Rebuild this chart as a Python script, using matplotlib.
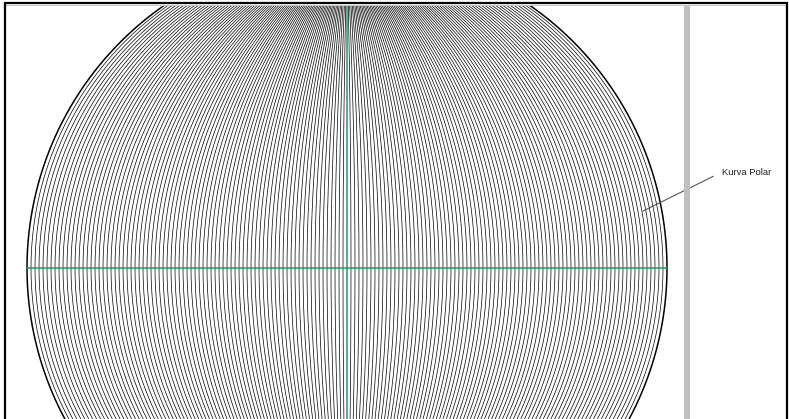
import numpy as np
import matplotlib
matplotlib.use("Agg")
import matplotlib.pyplot as plt
from matplotlib.patches import Rectangle

# polar curve family: circles through (0, R) and (0, -R)
radius = 10.0
n_arcs = 80          # arcs on each side of the vertical axis
label = "Kurva Polar"
label_point = (9.25, 1.78)

W, H = 789, 419
fig = plt.figure(figsize=(W / 100, H / 100), dpi=100)
fig.patch.set_facecolor("white")

# plot area (pixels from left/top): x 5..684, y 5..419, centre at (347, 268)
ax = fig.add_axes([5 / W, 0, (684 - 5) / W, (H - 5) / H])
px = radius / 320.0
ax.set_xlim((5 - 347) * px, (684 - 347) * px)
ax.set_ylim((268 - H) * px, (268 - 5) * px)
ax.set_aspect("equal", adjustable="box")
ax.axis("off")

intercepts = radius * np.arange(1, n_arcs + 1) / n_arcs
t = np.linspace(-1, 1, 600)
for x0 in intercepts:
    c = (x0 ** 2 - radius ** 2) / (2 * x0)   # centre on the x axis
    r = abs(x0 - c)
    half = np.arctan2(radius, abs(c))
    ang = t * half
    lw = 1.1 if x0 == radius else 0.5
    # arc on the right side and its mirror on the left
    xs = c + r * np.cos(ang) if c < 0 else c - r * np.cos(ang)
    ys = r * np.sin(ang)
    ax.plot(xs, ys, color="black", lw=lw)
    ax.plot(-xs, ys, color="black", lw=lw)

green = "#1f9d62"
ax.plot([-radius, radius], [0, 0], color=green, lw=1.1)
ax.plot([0, 0], [-radius, radius], color=green, lw=1.1)

ax.annotate(label, xy=label_point, xytext=(722, H - 172), textcoords="figure pixels",
            va="center", ha="left", fontsize=6.8, family="Liberation Sans", color="#222222",
            arrowprops=dict(arrowstyle="-", color="#555555", lw=0.8, relpos=(0, 0.5),
                            patchA=None, shrinkA=7, shrinkB=0),
            annotation_clip=False)

# frame pieces
fig.add_artist(Rectangle((684 / W, 0), 6 / W, (H - 5) / H, transform=fig.transFigure,
                         facecolor="#c0c0c0", edgecolor="none"))
fig.add_artist(Rectangle((5 / W, (H - 6) / H), (786 - 5) / W, 1.2 / H, transform=fig.transFigure,
                         facecolor="#c8c8c8", edgecolor="none"))
fig.add_artist(Rectangle((4.5 / W, -0.05), (786.5 - 4.5) / W, 1.05 - 3.5 / H, transform=fig.transFigure,
                         facecolor="none", edgecolor="black", lw=1.6))

fig.savefig("out.png", dpi=100)
